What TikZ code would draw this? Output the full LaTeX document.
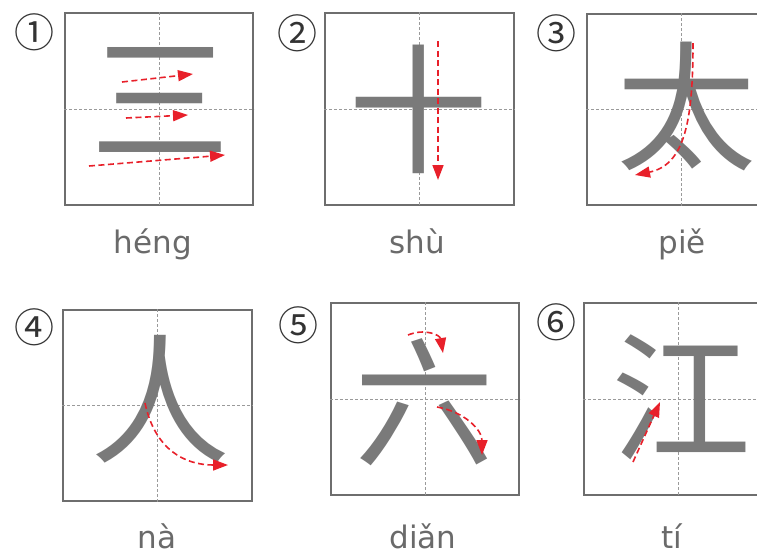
\documentclass[tikz,border=0pt]{standalone}
\usepackage{fontspec}
\newfontfamily\cjk{Noto Sans CJK SC}
\newfontfamily\dv{DejaVu Sans}
\usetikzlibrary{arrows.meta}
\definecolor{boxgray}{HTML}{6E6E6E}
\definecolor{chargray}{HTML}{7A7A7A}
\definecolor{gridgray}{HTML}{9A9A9A}
\definecolor{strokered}{HTML}{E8202A}
\definecolor{textgray}{HTML}{6A6A6A}
\definecolor{numgray}{HTML}{333333}
\begin{document}
\begin{tikzpicture}[x=1pt,y=-1pt,
  frame/.style={draw=boxgray,line width=2pt,fill=white,inner sep=0pt},
  gridline/.style={draw=gridgray,line width=0.9pt,dash pattern=on 3pt off 2pt},
  hanzi/.style={font=\cjk\fontsize{140}{140}\selectfont,text=chargray,inner sep=0pt},
  pinyin/.style={font=\dv\fontsize{31}{31}\selectfont,text=textgray,anchor=base,inner sep=0pt},
  num/.style={font=\cjk\fontsize{40}{40}\selectfont,text=numgray,inner sep=0pt},
  order/.style={draw=strokered,line width=1.6pt,dash pattern=on 6pt off 3.5pt,
    -{Triangle[length=15pt,width=11pt]}}]
\useasboundingbox (0,0) rectangle (757,555);
\clip (0,0) rectangle (757,555);
\fill[white] (0,0) rectangle (757,555);

% boxes
\node[frame,minimum width=188pt,minimum height=192pt] (b1) at (159,109) {};
\node[frame,minimum width=189pt,minimum height=192pt] (b2) at (419.5,109) {};
\node[frame,minimum width=188pt,minimum height=191pt] (b3) at (681,109.5) {};
\node[frame,minimum width=189pt,minimum height=191pt] (b4) at (157.5,405.5) {};
\node[frame,minimum width=188pt,minimum height=192pt] (b5) at (425,399) {};
\node[frame,minimum width=188pt,minimum height=192pt] (b6) at (678,399) {};

\foreach \b in {b1,b2,b3,b4,b5,b6}{
  \draw[gridline] (\b.north) -- (\b.south);
  \draw[gridline] (\b.west) -- (\b.east);
}

% characters
\node[hanzi] (c1) at (160,100) {三};
\node[hanzi] (c2) at (418,109) {十};
\node[hanzi] (c3) at (686,107) {太};
\node[hanzi] (c4) at (160,399) {人};
\node[hanzi] (c5) at (424,402) {六};
\node[hanzi] (c6) at (681,397) {江};

% stroke order arrows
\draw[order] (122,82) -- (193,74);
\draw[order] (126,118) -- (188,115);
\draw[order] (89,166) -- (225,155);
\draw[order] (438,41) -- (438,180);
\draw[order] (693,43) .. controls (693,120) and (685,165) .. (635,175);
\draw[order] (145,403) .. controls (155,450) and (185,465) .. (228,465);
\draw[order] (408,335) .. controls (425,328) and (440,335) .. (443,353);
\draw[order] (437,407) .. controls (465,412) and (482,430) .. (482,455);
\draw[order] (633,462) -- (660,402);

% numbers
\node[num] (n1) at (34,32) {①};
\node[num] (n2) at (297,33) {②};
\node[num] (n3) at (556,33) {③};
\node[num] (n4) at (34,327) {④};
\node[num] (n5) at (298,325) {⑤};
\node[num] (n6) at (556,322) {⑥};

% pinyin
\node[pinyin] (p1) at (153,253) {héng};
\node[pinyin] (p2) at (417,253) {shù};
\node[pinyin] (p3) at (682,253) {piě};
\node[pinyin] (p4) at (157,548) {nà};
\node[pinyin] (p5) at (423,548) {diǎn};
\node[pinyin] (p6) at (672,548) {tí};
\end{tikzpicture}
\end{document}
